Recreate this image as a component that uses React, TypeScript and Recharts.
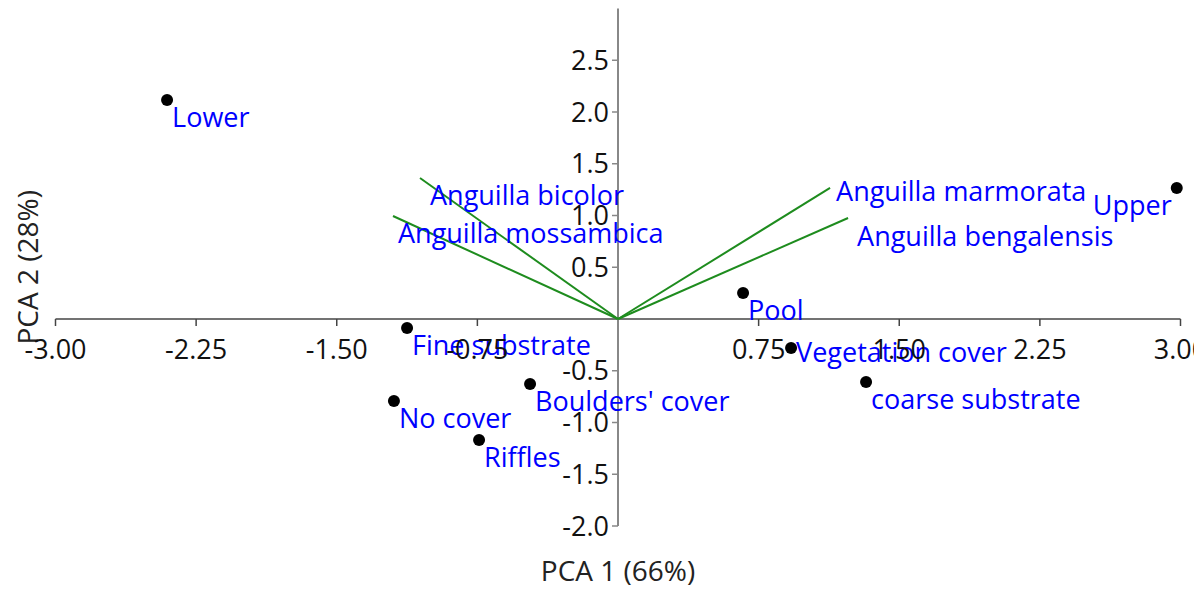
import React from 'react';
import { ScatterChart, Scatter, XAxis, YAxis, ReferenceLine, Label } from 'recharts';

// Site scores (PCA 1 / PCA 2)
const SITES = ['Lower', 'Upper', 'Pool', 'Vegetation cover', 'coarse substrate', 'Fine substrate', "Boulders' cover", 'No cover', 'Riffles'];
const SITE_PC1 = [-2.405, 2.98, 0.667, 0.923, 1.323, -1.125, -0.469, -1.195, -0.741];
const SITE_PC2 = [2.116, 1.266, 0.251, -0.28, -0.609, -0.087, -0.628, -0.792, -1.169];

// Species loadings (vectors from origin)
const SPECIES = ['Anguilla bicolor', 'Anguilla mossambica', 'Anguilla marmorata', 'Anguilla bengalensis'];
const SPECIES_PC1 = [-1.056, -1.2, 1.131, 1.227];
const SPECIES_PC2 = [1.362, 0.995, 1.266, 0.976];

const X_TICKS = [-3, -2.25, -1.5, -0.75, 0.75, 1.5, 2.25, 3];
const Y_TICKS = [-2, -1.5, -1, -0.5, 0.5, 1, 1.5, 2, 2.5];

const WIDTH = 1194;
const HEIGHT = 589;
const FONT = '"Open Sans", sans-serif';

const X_MIN = -3;
const X_MAX = 3;
const Y_MIN = -2;
const Y_MAX = 3;

// plot area
const MARGIN = { top: 8.5, right: 13.5, left: 0, bottom: 0 };
const Y_AXIS_W = 55.5;
const X_AXIS_H = 63;
const PLOT_W = WIDTH - Y_AXIS_W - MARGIN.right;
const PLOT_H = HEIGHT - MARGIN.top - X_AXIS_H;
const ORIGIN_X = Y_AXIS_W + (PLOT_W * (0 - X_MIN)) / (X_MAX - X_MIN);
const ORIGIN_Y = MARGIN.top + (PLOT_H * (Y_MAX - 0)) / (Y_MAX - Y_MIN);

const LABEL_BLUE = '#0000ff';
const VECTOR_GREEN = '#1e8c1e';

// label nudges: [dx, dy, anchor]
const LABEL_NUDGE: Record<string, [number, number, 'start' | 'end']> = {
  Upper: [-5, 27, 'end'],
  'Vegetation cover': [5, 14, 'start'],
  'Anguilla bicolor': [10, 27, 'start'],
  'Anguilla marmorata': [6, 13, 'start'],
  'Anguilla bengalensis': [9, 28, 'start'],
};
const DEFAULT_NUDGE: [number, number, 'start' | 'end'] = [5, 27, 'start'];

const siteData = SITES.map((name, i) => ({ name, x: SITE_PC1[i], y: SITE_PC2[i] }));
const speciesData = SPECIES.map((name, i) => ({ name, x: SPECIES_PC1[i], y: SPECIES_PC2[i] }));

function PointLabel({ cx, cy, name }: { cx: number; cy: number; name: string }) {
  const [dx, dy, anchor] = LABEL_NUDGE[name] || DEFAULT_NUDGE;
  return (
    <text x={cx + dx} y={cy + dy} textAnchor={anchor} fill={LABEL_BLUE} fontSize={27} fontFamily={FONT}>
      {name}
    </text>
  );
}

const SiteShape = (props: any) => {
  const { cx, cy, payload } = props;
  return (
    <g>
      <circle cx={cx} cy={cy} r={6} fill="#000" />
      <PointLabel cx={cx} cy={cy} name={payload.name} />
    </g>
  );
};

const SpeciesShape = (props: any) => {
  const { cx, cy, payload } = props;
  return <PointLabel cx={cx} cy={cy} name={payload.name} />;
};

const XTick = (props: any) => {
  const { x, payload } = props;
  const label = payload.value.toFixed(2);
  return (
    <g>
      <line x1={x} y1={ORIGIN_Y} x2={x} y2={ORIGIN_Y + 7} stroke="#444" strokeWidth={1.5} />
      <text x={x} y={ORIGIN_Y + 40} textAnchor="middle" fill="#111" fontSize={27} fontFamily={FONT}>
        {label}
      </text>
    </g>
  );
};

const YTick = (props: any) => {
  const { y, payload } = props;
  const label = payload.value.toFixed(1);
  return (
    <g>
      <line x1={ORIGIN_X - 6} y1={y} x2={ORIGIN_X} y2={y} stroke="#888" strokeWidth={1.5} />
      <text x={ORIGIN_X - 9} y={y} dy="0.36em" textAnchor="end" fill="#111" fontSize={27} fontFamily={FONT}>
        {label}
      </text>
    </g>
  );
};

export default function App() {
  return (
    <div style={{ width: WIDTH, height: HEIGHT }}>
      <style>{'body{margin:0;}'}</style>
      <ScatterChart width={WIDTH} height={HEIGHT} margin={MARGIN}>
        <XAxis
          type="number"
          dataKey="x"
          domain={[X_MIN, X_MAX]}
          ticks={X_TICKS}
          interval={0}
          height={X_AXIS_H}
          axisLine={false}
          tickLine={false}
          tick={<XTick />}
        >
          <Label
            content={({ viewBox }: any) => (
              <text
                x={viewBox.x + viewBox.width / 2}
                y={viewBox.y + 55}
                textAnchor="middle"
                fill="#222"
                fontSize={28}
                fontFamily={FONT}
              >
                PCA 1 (66%)
              </text>
            )}
          />
        </XAxis>
        <YAxis
          type="number"
          dataKey="y"
          domain={[Y_MIN, Y_MAX]}
          ticks={Y_TICKS}
          interval={0}
          width={Y_AXIS_W}
          axisLine={false}
          tickLine={false}
          tick={<YTick />}
        >
          <Label
            content={({ viewBox }: any) => {
              const cx = 28;
              const cy = viewBox.y + viewBox.height / 2;
              return (
                <text
                  x={cx}
                  y={cy}
                  dy="0.36em"
                  textAnchor="middle"
                  transform={`rotate(-90 ${cx} ${cy})`}
                  fill="#222"
                  fontSize={28}
                  fontFamily={FONT}
                >
                  PCA 2 (28%)
                </text>
              );
            }}
          />
        </YAxis>
        <ReferenceLine y={0} stroke="#444" strokeWidth={1.5} />
        <ReferenceLine x={0} stroke="#888" strokeWidth={2} />
        {speciesData.map((s) => (
          <ReferenceLine
            key={s.name}
            segment={[
              { x: 0, y: 0 },
              { x: s.x, y: s.y },
            ]}
            stroke={VECTOR_GREEN}
            strokeWidth={2}
            ifOverflow="visible"
          />
        ))}
        <Scatter data={speciesData} shape={SpeciesShape} isAnimationActive={false} />
        <Scatter data={siteData} shape={SiteShape} isAnimationActive={false} />
      </ScatterChart>
    </div>
  );
}
